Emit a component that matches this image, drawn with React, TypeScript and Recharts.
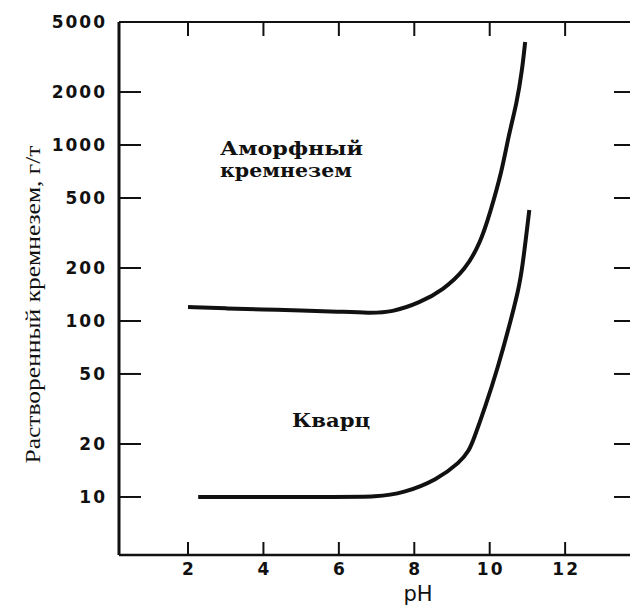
import React from "react";
import { LineChart, Line, XAxis, YAxis, ReferenceDot } from "recharts";

// pH vs dissolved silica (g/t)
const amorphousPh = [2.0, 3.0, 4.0, 5.0, 6.0, 6.8, 7.4, 8.15, 8.76, 9.35, 9.75, 10.01, 10.33, 10.49, 10.72, 10.86, 10.94];
const amorphousSilica = [120, 118, 116, 115, 113, 111, 112, 127, 150, 195, 277, 411, 721, 1110, 1733, 2667, 3850];

const quartzPh = [2.27, 4.0, 6.0, 7.0, 7.7, 8.6, 9.22, 9.45, 9.57, 9.88, 10.22, 10.54, 10.76, 10.86, 11.05];
const quartzSilica = [10, 10, 10, 10, 10.5, 12.5, 15.8, 18.3, 21.1, 32.4, 54.7, 97, 150, 195, 427];

const xTicks = [2, 4, 6, 8, 10, 12];
const yTicks = [10, 20, 50, 100, 200, 500, 1000, 2000, 5000];

const notes = [
  { text: "Аморфный", ph: 2.85, value: 877, len: 143 },
  { text: "кремнезем", ph: 2.85, value: 658, len: 132 },
  { text: "Кварц", ph: 4.76, value: 25, len: 78 },
];

const xDomain = [0.17, 13.72];
const yDomain = [4.68, 5000];

const amorphous = amorphousPh.map((ph, i) => ({ ph, value: amorphousSilica[i] }));
const quartz = quartzPh.map((ph, i) => ({ ph, value: quartzSilica[i] }));

const CHART_W = 630;
const MARGIN_R = 0;
const AXIS_W = 119;
const PLOT_W = CHART_W - MARGIN_R - AXIS_W; // right frame is the page edge

const INK = "#111";
const tickFont = { fontFamily: "DejaVu Sans", fontWeight: "bold", fontSize: 17, letterSpacing: 2 };

// left tick + label, and the matching inward tick on the right frame
const LeftTick = ({ x, y, payload }: any) => (
  <g>
    <line x1={x} x2={x + 22} y1={y} y2={y} stroke={INK} strokeWidth={2} />
    {payload.value !== 5000 && (
      <line x1={x + PLOT_W - 16} x2={x + PLOT_W} y1={y} y2={y} stroke={INK} strokeWidth={2} />
    )}
    <text x={x - 12} y={y} dy="0.36em" textAnchor="end" fill={INK} style={tickFont}>
      {payload.value}
    </text>
  </g>
);

const BottomTick = ({ x, y, payload }: any) => (
  <g>
    <line x1={x} x2={x} y1={y} y2={y - 13} stroke={INK} strokeWidth={2} />
    <text x={x + 1} y={y + 20} textAnchor="middle" fill={INK} style={tickFont}>
      {payload.value}
    </text>
  </g>
);

const TopTick = ({ x, y }: any) => (
  <line x1={x} x2={x} y1={y} y2={y + 14} stroke={INK} strokeWidth={2} />
);

export default function App() {
  return (
    <div style={{ position: "fixed", left: 0, top: 0, width: 630, height: 610, overflow: "hidden", background: "#fff" }}>
      <LineChart width={CHART_W} height={610} margin={{ top: 21, right: MARGIN_R, bottom: 54, left: 0 }}>
        <XAxis
          dataKey="ph"
          type="number"
          domain={xDomain}
          allowDataOverflow
          ticks={xTicks}
          height={1}
          tickSize={0}
          tickMargin={0}
          tick={<BottomTick />}
          axisLine={{ stroke: INK, strokeWidth: 2.5 }}
          label={{
            content: ({ viewBox }: any) => {
              const f = (8.1 - xDomain[0]) / (xDomain[1] - xDomain[0]);
              return (
                <text x={viewBox.x + viewBox.width * f} y={viewBox.y + 46} textAnchor="middle" fill={INK}
                  style={{ fontFamily: "DejaVu Sans", fontSize: 21 }}>
                  pH
                </text>
              );
            },
          }}
        />
        <XAxis
          xAxisId="top"
          orientation="top"
          dataKey="ph"
          type="number"
          domain={xDomain}
          allowDataOverflow
          ticks={xTicks}
          height={1}
          tickSize={0}
          tickMargin={0}
          tick={<TopTick />}
          axisLine={{ stroke: INK, strokeWidth: 2 }}
        />
        <YAxis
          dataKey="value"
          scale="log"
          type="number"
          domain={yDomain}
          allowDataOverflow
          ticks={yTicks}
          width={AXIS_W}
          tickSize={0}
          tickMargin={0}
          tick={<LeftTick />}
          axisLine={{ stroke: INK, strokeWidth: 3 }}
          label={{
            content: ({ viewBox }: any) => {
              const cx = 40;
              const cy = viewBox.y + viewBox.height / 2 + 16;
              return (
                <text x={cx} y={cy} transform={`rotate(-90 ${cx} ${cy})`} textAnchor="middle" fill={INK}
                  textLength={318} lengthAdjust="spacingAndGlyphs"
                  style={{ fontFamily: "Liberation Serif", fontSize: 22 }}>
                  Растворенный кремнезем, г/т
                </text>
              );
            },
          }}
        />
        <Line data={amorphous} dataKey="value" type="basis" stroke={INK} strokeWidth={4}
          dot={false} isAnimationActive={false} />
        <Line data={quartz} dataKey="value" type="basis" stroke={INK} strokeWidth={4}
          dot={false} isAnimationActive={false} />
        {notes.map((n) => (
          <ReferenceDot
            key={n.text}
            x={n.ph}
            y={n.value}
            r={0}
            fill="none"
            stroke="none"
            label={{
              content: ({ viewBox }: any) => (
                <text x={viewBox.x} y={viewBox.y + viewBox.height / 2} fill={INK}
                  textLength={n.len} lengthAdjust="spacingAndGlyphs"
                  style={{ fontFamily: "DejaVu Serif", fontWeight: "bold", fontSize: 19 }}>
                  {n.text}
                </text>
              ),
            }}
          />
        ))}
      </LineChart>
    </div>
  );
}
